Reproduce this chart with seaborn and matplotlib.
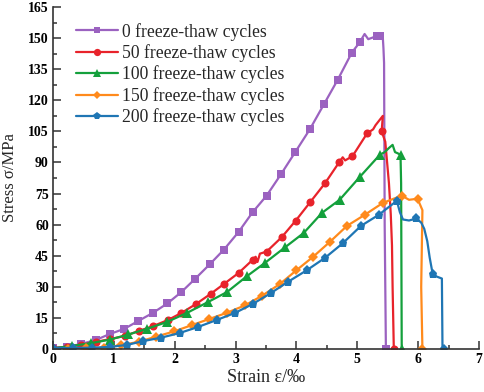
import numpy as np
import pandas as pd
import seaborn as sns
import matplotlib.pyplot as plt
from matplotlib.ticker import MultipleLocator

sns.set_style("ticks")
plt.rcParams["font.family"] = ["Liberation Serif", "DejaVu Serif"]
plt.rcParams["mathtext.fontset"] = "stix"

labels = ["0 freeze-thaw cycles", "50 freeze-thaw cycles", "100 freeze-thaw cycles",
          "150 freeze-thaw cycles", "200 freeze-thaw cycles"]
colors = ["#9b62c0", "#e8232b", "#14a03c", "#ff8a1c", "#1f76b4"]
markers = ["s", "o", "^", "D", "p"]

# 0 cycles
strain_0 = [0, 0.23, 0.46, 0.70, 0.93, 1.17, 1.40, 1.64, 1.88, 2.11, 2.34, 2.58, 2.81, 3.05,
            3.28, 3.51, 3.75, 3.98, 4.22, 4.45, 4.68, 4.91, 5.04, 5.12, 5.18, 5.32, 5.37,
            5.42, 5.43, 5.44, 5.45, 5.47]
stress_0 = [0.5, 1.0, 2.4, 4.3, 7.2, 9.7, 13.5, 17.4, 22.0, 27.5, 34.0, 41.0, 48.0, 56.5,
            66.0, 74.0, 84.5, 95.0, 106.0, 118.0, 130.0, 143.0, 148.0, 152.0, 149.5, 151.0, 151.0,
            150.0, 145.0, 138.0, 60.0, 0.0]
marks_0 = list(range(23)) + [25, 26, 31]

# 50 cycles
strain_50 = [0, 0.23, 0.46, 0.70, 0.94, 1.18, 1.41, 1.64, 1.89, 2.11, 2.35, 2.59, 2.81, 3.05,
             3.28, 3.33, 3.36, 3.40, 3.51, 3.76, 3.99, 4.23, 4.47, 4.70, 4.76, 4.80, 4.92,
             5.16, 5.26, 5.30, 5.42, 5.40, 5.46, 5.49, 5.52, 5.55, 5.57, 5.58, 5.60]
stress_50 = [0.5, 1.0, 2.0, 3.4, 4.8, 6.3, 8.7, 11.0, 14.0, 17.4, 21.7, 26.6, 31.4, 36.7,
             43.0, 44.5, 42.0, 46.0, 47.0, 54.0, 62.0, 71.0, 80.0, 90.0, 92.5, 91.0, 93.0,
             104.0, 106.0, 108.0, 112.5, 105.0, 100.0, 90.0, 80.0, 65.0, 50.0, 30.0, 0.0]
marks_50 = list(range(15)) + [18, 19, 20, 21, 22, 23, 26, 27, 31, 38]

# 100 cycles
strain_100 = [0, 0.31, 0.62, 0.93, 1.24, 1.55, 1.87, 2.20, 2.55, 2.86, 3.18, 3.48, 3.81,
              4.12, 4.42, 4.71, 5.04, 5.37, 5.45, 5.52, 5.58, 5.62, 5.66, 5.71, 5.72, 5.73]
stress_100 = [0.3, 1.5, 2.8, 4.5, 7.0, 9.8, 13.0, 17.4, 22.7, 27.5, 35.0, 41.5, 49.0,
              56.0, 65.7, 72.0, 83.0, 93.7, 95.0, 97.0, 98.5, 95.0, 94.5, 93.7, 80.0, 0.0]
marks_100 = list(range(18)) + [23, 25]

# 150 cycles
strain_150 = [0, 0.25, 0.54, 0.83, 1.12, 1.41, 1.70, 1.99, 2.28, 2.57, 2.86, 3.15, 3.43,
              3.73, 4.00, 4.27, 4.55, 4.83, 5.12, 5.42, 5.73, 5.85, 5.99, 6.07, 6.05, 6.07]
stress_150 = [0.0, 0.1, 0.3, 0.7, 1.8, 3.5, 6.0, 8.5, 11.5, 14.5, 17.5, 21.0, 25.6,
              31.4, 38.0, 44.4, 51.7, 59.4, 64.7, 70.5, 74.0, 72.0, 72.5, 67.0, 30.0, 0.0]
marks_150 = list(range(21)) + [22, 25]

# 200 cycles
strain_200 = [0, 0.33, 0.64, 0.94, 1.22, 1.48, 1.78, 2.08, 2.38, 2.69, 2.99, 3.28, 3.58,
              3.86, 4.17, 4.47, 4.76, 5.06, 5.35, 5.65, 5.70, 5.75, 5.85, 5.97, 6.05, 6.10,
              6.15, 6.19, 6.24, 6.30, 6.39, 6.40, 6.42]
stress_200 = [0.5, 0.5, 0.6, 1.0, 2.0, 3.8, 5.5, 7.7, 10.6, 14.0, 17.4, 21.7, 27.0,
              32.4, 38.0, 44.0, 51.0, 59.4, 64.7, 71.5, 66.0, 62.5, 62.0, 63.0, 61.0, 58.0,
              52.0, 44.0, 36.0, 35.0, 34.0, 0.0, 0.0]
marks_200 = list(range(20)) + [23, 28, 32]

series = [(strain_0, stress_0, marks_0), (strain_50, stress_50, marks_50),
          (strain_100, stress_100, marks_100), (strain_150, stress_150, marks_150),
          (strain_200, stress_200, marks_200)]
msizes = {"s": 5.5, "o": 5.8, "^": 6.5, "D": 5.0, "p": 6.5}

fig = plt.figure(figsize=(4.84, 3.92), dpi=100)
ax = fig.add_axes([0.1095, 0.1097, 0.8802, 0.8723])

for (x, y, mk), lab, c, m in zip(series, labels, colors, markers):
    df = pd.DataFrame({"strain": x, "stress": y})
    sns.lineplot(data=df, x="strain", y="stress", sort=False, estimator=None, ax=ax,
                 color=c, lw=1.6, marker=m, markersize=msizes[m], markevery=mk,
                 markeredgewidth=0, label=lab)

ax.set_xlim(0, 7)
ax.set_ylim(0, 165)
ax.xaxis.set_major_locator(MultipleLocator(1))
ax.xaxis.set_minor_locator(MultipleLocator(0.5))
ax.yaxis.set_major_locator(MultipleLocator(15))
ax.yaxis.set_minor_locator(MultipleLocator(7.5))
ax.tick_params(which="both", direction="in", colors="#333333", labelcolor="black",
               labelsize=10, width=1.1)
ax.tick_params(which="major", length=6, pad=3)
ax.tick_params(which="minor", length=3)
for lbl in ax.get_xticklabels() + ax.get_yticklabels():
    lbl.set_fontweight("bold")
for s in ["top", "right"]:
    ax.spines[s].set_visible(False)
for s in ["left", "bottom"]:
    ax.spines[s].set_color("#333333")
    ax.spines[s].set_linewidth(1.2)

ax.set_xlabel("Strain ε/‰", fontsize=13, labelpad=2)
ax.set_ylabel("Stress σ/MPa", fontsize=12, labelpad=7)

ax.legend(loc="upper left", bbox_to_anchor=(0.158, 0.942), bbox_transform=fig.transFigure,
          frameon=False, fontsize=12.7, handlelength=2.35, handletextpad=0.22,
          labelspacing=0.2, borderaxespad=0, borderpad=0, markerscale=0.9)

fig.savefig("out.png", dpi=100)
